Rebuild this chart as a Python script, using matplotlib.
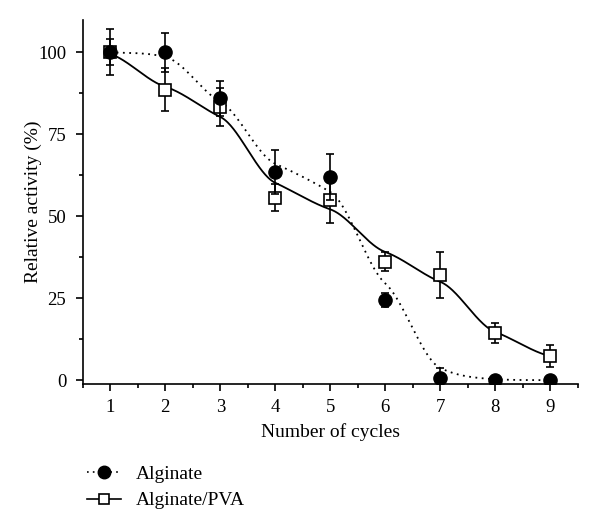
import numpy as np
import matplotlib
matplotlib.use('Agg')
import matplotlib.pyplot as plt
from matplotlib.lines import Line2D
from matplotlib.ticker import MultipleLocator

plt.rcParams['font.family'] = ['Liberation Serif', 'DejaVu Serif']

#### data ####
cycles = [1, 2, 3, 4, 5, 6, 7, 8, 9]

alg = [100, 100, 86.0, 63.5, 62.0, 24.4, 0.7, 0, 0]
alg_err = [7, 6, 5.3, 6.8, 6.9, 2.2, 3.0, 0, 0]

pva = [100, 88.6, 83.3, 55.7, 54.9, 36.1, 32.0, 14.4, 7.3]
pva_err = [4, 6.5, 5.9, 4.1, 7.1, 2.9, 7.0, 3.0, 3.4]

# fitted curves, values at each cycle
alg_fit = [100, 98.6, 84.9, 66.0, 57.4, 29.5, 3.7, 0.3, 0]
pva_fit = [99.5, 89.5, 80.3, 60.2, 52.1, 39.1, 30.0, 14.7, 7.3]


def smooth(xn, yn, k=0.55, n=60):
    # cubic hermite through the nodes, damped tangents
    xn = np.asarray(xn, float)
    yn = np.asarray(yn, float)
    m = np.zeros_like(yn)
    m[1:-1] = k * (yn[2:] - yn[:-2]) / 2
    m[0] = k * (yn[1] - yn[0])
    m[-1] = k * (yn[-1] - yn[-2])
    xs, ys = [], []
    for i in range(len(xn) - 1):
        t = np.linspace(0, 1, n)
        h = xn[i + 1] - xn[i]
        h00 = 2*t**3 - 3*t**2 + 1
        h10 = t**3 - 2*t**2 + t
        h01 = -2*t**3 + 3*t**2
        h11 = t**3 - t**2
        xs.append(xn[i] + t * h)
        ys.append(h00*yn[i] + h10*h*m[i] + h01*yn[i+1] + h11*h*m[i+1])
    return np.concatenate(xs), np.concatenate(ys)


fig = plt.figure(figsize=(6, 5.32), dpi=100)
ax = fig.add_axes([0.138, 0.278, 0.825, 0.684])

xa, ya = smooth(cycles, alg_fit)
xp, yp = smooth(cycles, pva_fit)
ax.plot(xa, ya, color='black', lw=1.3, ls=(0, (1, 2.5)))
ax.plot(xp, yp, color='black', lw=1.3, ls='-')

ax.errorbar(cycles, pva, yerr=pva_err, fmt='s', ms=8, mfc='white', mec='black',
            mew=1.2, ecolor='black', elinewidth=1.2, capsize=3, capthick=1.2, zorder=3)
ax.errorbar(cycles, alg, yerr=alg_err, fmt='o', ms=9.5, mfc='black', mec='black',
            ecolor='black', elinewidth=1.2, capsize=3, capthick=1.2, zorder=4)

ax.set_xlim(0.5, 9.5)
ax.set_ylim(-1.2, 109.8)
ax.set_xticks(cycles)
ax.set_yticks([0, 25, 50, 75, 100])
ax.xaxis.set_minor_locator(MultipleLocator(0.5))
ax.yaxis.set_minor_locator(MultipleLocator(12.5))
ax.tick_params(which='major', direction='out', length=5, width=1.2, labelsize=13.5)
ax.tick_params(axis='y', which='major', pad=7)
ax.tick_params(axis='x', which='major', pad=6)
ax.tick_params(which='minor', direction='out', length=3, width=1.2)
for s in ['top', 'right']:
    ax.spines[s].set_visible(False)
for s in ['left', 'bottom']:
    ax.spines[s].set_linewidth(1.2)

ax.set_xlabel('Number of cycles', fontsize=14, labelpad=5)
ax.set_ylabel('Relative activity (%)', fontsize=14, labelpad=-3)

handles = [
    Line2D([], [], color='black', lw=1.2, ls=(0, (1, 2.5)), marker='o', ms=9, mfc='black'),
    Line2D([], [], color='black', lw=1.2, ls='-', marker='s', ms=7.5, mfc='white', mew=1.2),
]
fig.legend(handles, ['Alginate', 'Alginate/PVA'], loc='upper left',
           bbox_to_anchor=(0.145, 0.125), frameon=False, fontsize=14,
           handlelength=1.75, handletextpad=0.75, borderpad=0, borderaxespad=0,
           labelspacing=0.45)

fig.savefig('out.png', dpi=100)
